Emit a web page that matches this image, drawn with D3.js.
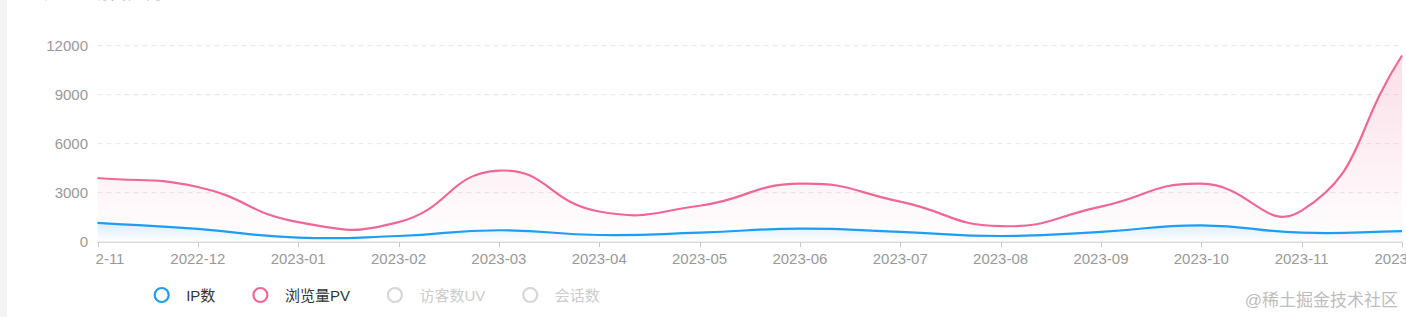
<!DOCTYPE html>
<html>
<head>
<meta charset="utf-8">
<script src="https://cdn.jsdelivr.net/npm/d3@7"></script>
<style>
  html, body { margin: 0; padding: 0; background: #fff; overflow: hidden; }
  svg { display: block; font-family: "Liberation Sans", "Noto Sans CJK SC", sans-serif; }
</style>
</head>
<body>
<svg id="chart" width="1406" height="317"></svg>
<script>
// 月份 / 两条可见序列 / 图例
const months = ['2022-11', '2022-12', '2023-01', '2023-02', '2023-03', '2023-04', '2023-05',
  '2023-06', '2023-07', '2023-08', '2023-09', '2023-10', '2023-11', '2023-12']
const ipValues = [1150, 780, 250, 350, 700, 410, 550, 800, 600, 350, 600, 1000, 550, 650]
const pvValues = [3900, 3350, 1200, 1200, 4350, 1850, 2200, 3550, 2450, 950, 2150, 3550, 1900, 11400]
const yTicks = [0, 3000, 6000, 9000, 12000]
const legendNames = ['IP数', '浏览量PV', '访客数UV', '会话数']

const W = 1406, H = 317
const blue = '#1f9df1', pink = '#ee6894'

const svg = d3.select('#chart')

// left gray strip + cut-off title
svg.append('rect').attr('x', 0).attr('y', 0).attr('width', 7).attr('height', H).attr('fill', '#f3f3f4')
svg.append('text').attr('x', 40).attr('y', -1).attr('fill', '#555').attr('font-size', 18)
  .text('流量 · 访问趋势')

const x = d3.scalePoint().domain(months).range([97.5, 1402])
const y = d3.scaleLinear().domain([0, 12000]).range([241.7, 45.7])

// smooth curve like the old echarts line: handles = (next - prev) * 0.5 * seg ratio
function EcSmooth(context) { this._context = context }
EcSmooth.prototype = {
  areaStart() { this._line = 0 },
  areaEnd() { this._line = NaN },
  lineStart() { this._pts = [] },
  point(px, py) { this._pts.push([+px, +py]) },
  lineEnd() {
    const p = this._pts, c = this._context, n = p.length
    if (!n) return
    if (this._line) c.lineTo(p[0][0], p[0][1])
    else c.moveTo(p[0][0], p[0][1])
    const cps = []
    for (let i = 0; i < n; i++) {
      const cur = p[i], prev = p[i - 1] || cur, next = p[i + 1] || cur
      const vx = (next[0] - prev[0]) * 0.5, vy = (next[1] - prev[1]) * 0.5
      let d0 = Math.hypot(cur[0] - prev[0], cur[1] - prev[1])
      let d1 = Math.hypot(cur[0] - next[0], cur[1] - next[1])
      const sum = d0 + d1
      if (sum) { d0 /= sum; d1 /= sum }
      cps.push([[cur[0] - vx * d0, cur[1] - vy * d0], [cur[0] + vx * d1, cur[1] + vy * d1]])
    }
    for (let i = 0; i < n - 1; i++) {
      const a = cps[i][1], b = cps[i + 1][0]
      c.bezierCurveTo(a[0], a[1], b[0], b[1], p[i + 1][0], p[i + 1][1])
    }
    if (this._line || (this._line !== 0 && n === 1)) c.closePath()
    this._line = 1 - this._line
  }
}
const curveEc = ctx => new EcSmooth(ctx)

// gradients
const defs = svg.append('defs')
function grad(id, color, top) {
  const g = defs.append('linearGradient').attr('id', id).attr('x1', 0).attr('y1', 0).attr('x2', 0).attr('y2', 1)
  g.append('stop').attr('offset', 0).attr('stop-color', color).attr('stop-opacity', top)
  g.append('stop').attr('offset', 1).attr('stop-color', color).attr('stop-opacity', 0)
}
grad('gPink', pink, 0.22)
grad('gBlue', blue, 0.16)
defs.append('clipPath').attr('id', 'xClip')
  .append('rect').attr('x', 96).attr('y', 0).attr('width', W).attr('height', H)

// grid
const grid = svg.append('g')
grid.selectAll('line').data(yTicks.filter(d => d > 0)).join('line')
  .attr('x1', x(months[0])).attr('x2', x(months[months.length - 1]))
  .attr('y1', d => y(d)).attr('y2', d => y(d))
  .attr('stroke', '#e6e6e6').attr('stroke-dasharray', '5,4')

// y labels
svg.append('g').selectAll('text').data(yTicks).join('text')
  .attr('x', 88).attr('y', d => y(d) + 5).attr('text-anchor', 'end')
  .attr('fill', '#999').attr('font-size', 15).text(d => d)

// areas + lines
const series = [
  { values: pvValues, color: pink, fill: 'url(#gPink)' },
  { values: ipValues, color: blue, fill: 'url(#gBlue)' }
]
const area = d3.area().x((d, i) => x(months[i])).y0(y(0)).y1(d => y(d)).curve(curveEc)
const line = d3.line().x((d, i) => x(months[i])).y(d => y(d)).curve(curveEc)
series.forEach(s => {
  svg.append('path').attr('d', area(s.values)).attr('fill', s.fill)
})
series.forEach(s => {
  svg.append('path').attr('d', line(s.values)).attr('fill', 'none')
    .attr('stroke', s.color).attr('stroke-width', 2.2)
})

// x axis
const xAxis = svg.append('g').attr('clip-path', 'url(#xClip)')
xAxis.append('line').attr('x1', x(months[0])).attr('x2', x(months[months.length - 1]))
  .attr('y1', y(0) + 0.5).attr('y2', y(0) + 0.5).attr('stroke', '#c8c8c8')
xAxis.selectAll('.tk').data(months).join('line').attr('class', 'tk')
  .attr('x1', d => Math.round(x(d)) + 0.5).attr('x2', d => Math.round(x(d)) + 0.5)
  .attr('y1', y(0) + 0.5).attr('y2', y(0) + 5.5).attr('stroke', '#c8c8c8')
xAxis.selectAll('.lb').data(months).join('text').attr('class', 'lb')
  .attr('x', d => x(d)).attr('y', 264).attr('text-anchor', 'middle')
  .attr('fill', '#999').attr('font-size', 15).text(d => d)

// legend
const legend = svg.append('g')
const legendColors = [blue, pink, '#d6d6d6', '#d6d6d6']
let lx = 161.7
legendNames.forEach((name, i) => {
  const active = i < 2
  legend.append('circle').attr('cx', lx).attr('cy', 295).attr('r', 7)
    .attr('fill', '#fff').attr('stroke', legendColors[i]).attr('stroke-width', 2.2)
  const t = legend.append('text').attr('x', lx + 24.5).attr('y', 300.5)
    .attr('fill', active ? '#333' : '#ccc').attr('font-size', 15).text(name)
  lx += 24.5 + t.node().getComputedTextLength() + 45
})

// watermark
svg.append('text').attr('x', 1398).attr('y', 306).attr('text-anchor', 'end')
  .attr('fill', '#bdbdbd').attr('font-size', 17).text('@稀土掘金技术社区')
</script>
</body>
</html>
